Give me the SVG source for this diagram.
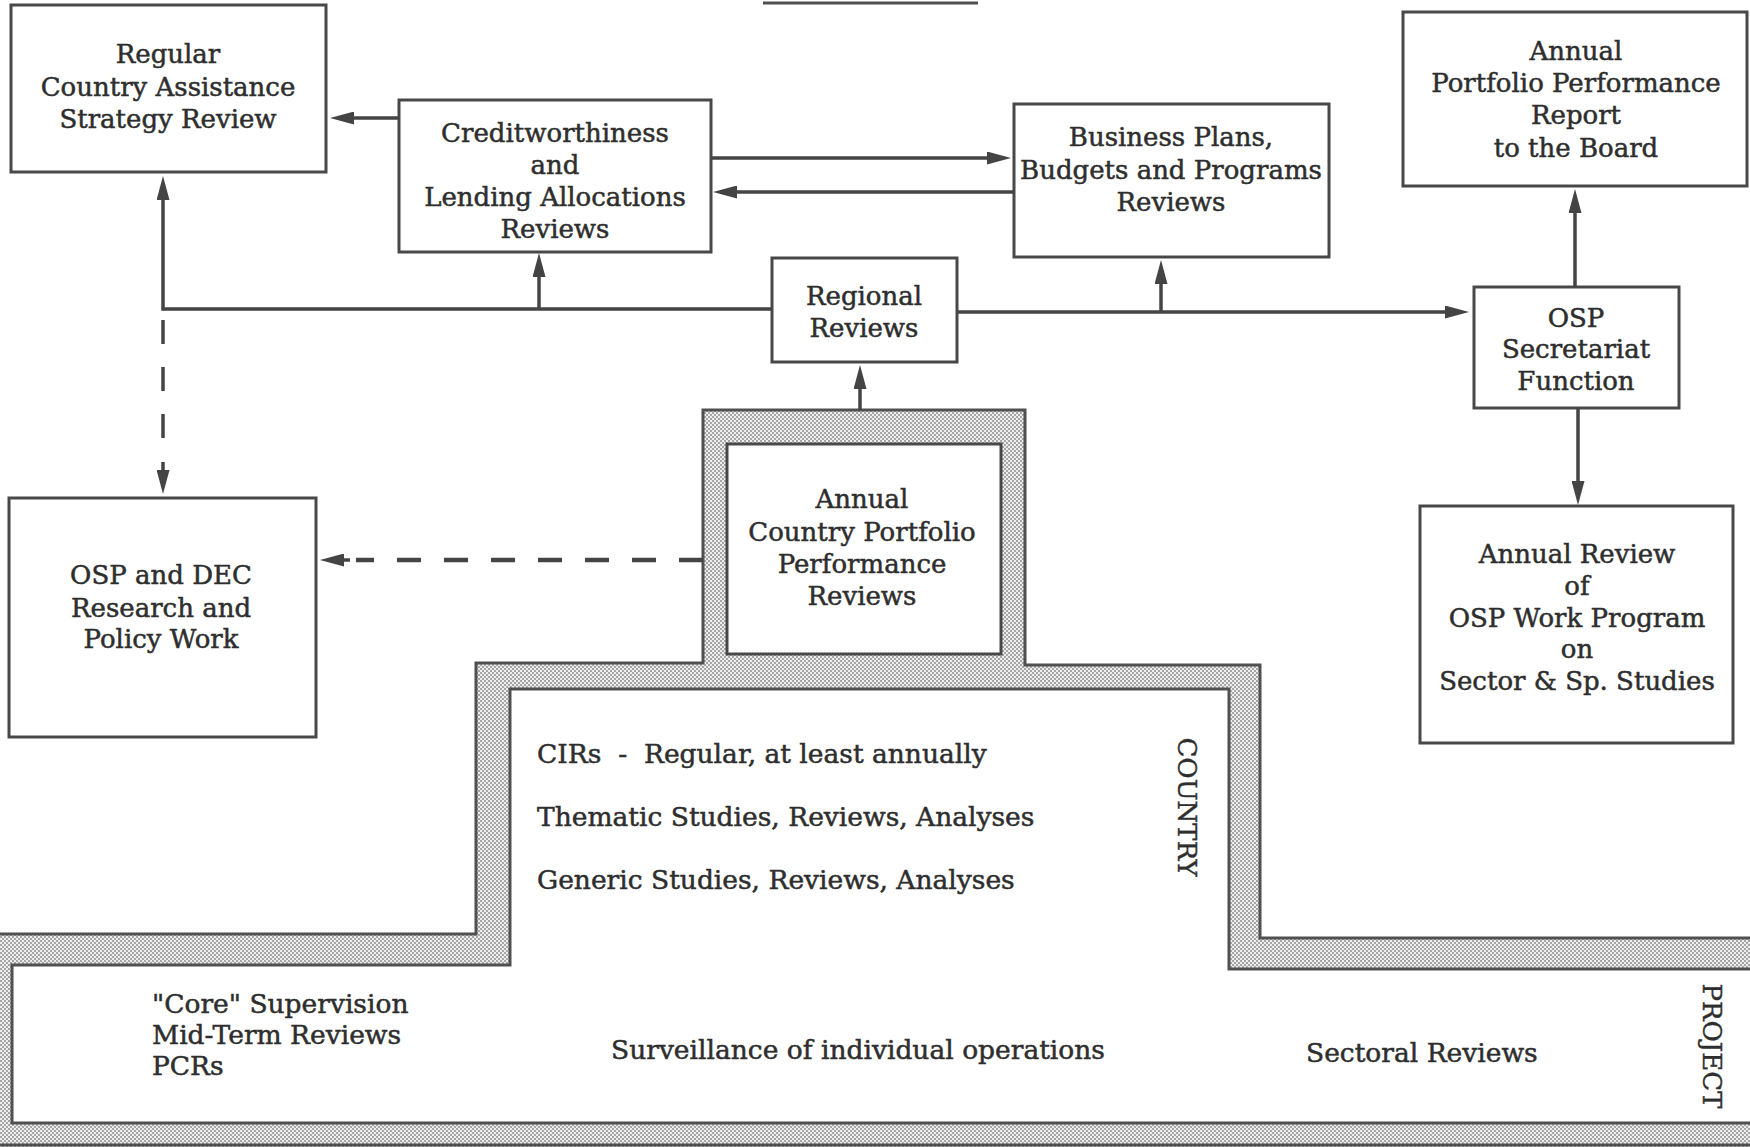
<svg xmlns="http://www.w3.org/2000/svg" width="1750" height="1147" viewBox="0 0 1750 1147">
  <style>
    .box { fill: #ffffff; stroke: #484848; stroke-width: 3; }
    .lbl { font-family: "DejaVu Serif", "Liberation Serif", serif; font-size: 26px; fill: #2e2e2e; stroke: #2e2e2e; stroke-width: 0.5; text-anchor: middle; }
    .left { text-anchor: start; white-space: pre; }
    .wide { font-size: 26.5px; }
    .side { font-family: "DejaVu Serif", "Liberation Serif", serif; font-size: 26px; fill: #2e2e2e; stroke: #2e2e2e; stroke-width: 0.4; text-anchor: middle; }
    .wire { fill: none; stroke: #444444; stroke-width: 3.5; }
    .dash { fill: none; stroke: #444444; stroke-width: 4.5; stroke-dasharray: 24 23; }
    .dash.thin { stroke-width: 3.5; }
    .edge { fill: none; stroke: #505050; stroke-width: 3; }
  </style>
  <defs>
    <pattern id="halftone" width="4" height="4" patternUnits="userSpaceOnUse">
      <rect width="4" height="4" fill="#ededed"/>
      <rect x="0" y="0" width="2" height="2" fill="#a6a6a6"/>
      <rect x="2" y="2" width="2" height="2" fill="#a6a6a6"/>
    </pattern>
    <marker id="head" viewBox="0 0 24 13" refX="14" refY="6.5" markerWidth="24" markerHeight="13" markerUnits="userSpaceOnUse" orient="auto">
      <path d="M0,0 L24,6.5 L0,13 Z" fill="#444444"/>
    </marker>
  </defs>

  <rect width="1750" height="1147" fill="#ffffff"/>

  <!-- heading rule at the top edge -->
  <line x1="763" y1="3" x2="978" y2="3" stroke="#505050" stroke-width="3"/>

  <!-- stepped shaded frame: country level above, project level below -->
  <g id="frame">
    <path d="M-6,934 L476,934 L476,663 L703,663 L703,410 L1025,410 L1025,665 L1260,665 L1260,938 L1756,938 L1756,1153 L-6,1153 Z" fill="url(#halftone)"/>
    <path class="edge" d="M-6,934 L476,934 L476,663 L703,663 L703,410 L1025,410 L1025,665 L1260,665 L1260,938 L1756,938"/>
    <line class="edge" x1="-6" y1="1145" x2="1756" y2="1145"/>
    <path d="M12,965 L510,965 L510,689 L1229,689 L1229,969 L1756,969 L1756,1123 L12,1123 Z" fill="#ffffff" stroke="#505050" stroke-width="3"/>
  </g>

  <g id="country-level">
    <text class="lbl left wide" x="537" y="763">CIRs  -  Regular, at least annually</text>
    <text class="lbl left wide" x="537" y="826">Thematic Studies, Reviews, Analyses</text>
    <text class="lbl left wide" x="537" y="889">Generic Studies, Reviews, Analyses</text>
    <text class="side" transform="translate(1187,807) rotate(90)" x="0" y="9">COUNTRY</text>
  </g>

  <g id="project-level">
    <text class="lbl left wide" x="152" y="1013">"Core" Supervision</text>
    <text class="lbl left wide" x="152" y="1044">Mid-Term Reviews</text>
    <text class="lbl left wide" x="152" y="1075">PCRs</text>
    <text class="lbl left wide" x="611" y="1059">Surveillance of individual operations</text>
    <text class="lbl left wide" x="1306" y="1062">Sectoral Reviews</text>
    <text class="side" transform="translate(1712,1046) rotate(90)" x="0" y="9">PROJECT</text>
  </g>

  <g id="node-cas-review">
    <rect class="box" x="11" y="5" width="315" height="167"/>
    <text class="lbl" x="168" y="63">Regular</text>
    <text class="lbl" x="168" y="96">Country Assistance</text>
    <text class="lbl" x="168" y="128">Strategy Review</text>
  </g>

  <g id="node-creditworthiness">
    <rect class="box" x="399" y="100" width="312" height="152"/>
    <text class="lbl" x="555" y="142">Creditworthiness</text>
    <text class="lbl" x="555" y="174">and</text>
    <text class="lbl" x="555" y="206">Lending Allocations</text>
    <text class="lbl" x="555" y="238">Reviews</text>
  </g>

  <g id="node-business-plans">
    <rect class="box" x="1014" y="104" width="315" height="153"/>
    <text class="lbl" x="1171" y="146">Business Plans,</text>
    <text class="lbl" x="1171" y="179">Budgets and Programs</text>
    <text class="lbl" x="1171" y="211">Reviews</text>
  </g>

  <g id="node-board-report">
    <rect class="box" x="1403" y="12" width="344" height="174"/>
    <text class="lbl" x="1576" y="60">Annual</text>
    <text class="lbl" x="1576" y="92">Portfolio Performance</text>
    <text class="lbl" x="1576" y="124">Report</text>
    <text class="lbl" x="1576" y="157">to the Board</text>
  </g>

  <g id="node-regional">
    <rect class="box" x="772" y="258" width="185" height="104"/>
    <text class="lbl" x="864" y="305">Regional</text>
    <text class="lbl" x="864" y="337">Reviews</text>
  </g>

  <g id="node-osp-secretariat">
    <rect class="box" x="1474" y="287" width="205" height="121"/>
    <text class="lbl" x="1576" y="327">OSP</text>
    <text class="lbl" x="1576" y="358">Secretariat</text>
    <text class="lbl" x="1576" y="390">Function</text>
  </g>

  <g id="node-research">
    <rect class="box" x="9" y="498" width="307" height="239"/>
    <text class="lbl" x="161" y="584">OSP and DEC</text>
    <text class="lbl" x="161" y="617">Research and</text>
    <text class="lbl" x="161" y="648">Policy Work</text>
  </g>

  <g id="node-country-portfolio">
    <rect class="box" x="727" y="444" width="274" height="210"/>
    <text class="lbl" x="862" y="508">Annual</text>
    <text class="lbl" x="862" y="541">Country Portfolio</text>
    <text class="lbl" x="862" y="573">Performance</text>
    <text class="lbl" x="862" y="605">Reviews</text>
  </g>

  <g id="node-work-program">
    <rect class="box" x="1420" y="506" width="313" height="237"/>
    <text class="lbl" x="1577" y="563">Annual Review</text>
    <text class="lbl" x="1577" y="595">of</text>
    <text class="lbl" x="1577" y="627">OSP Work Program</text>
    <text class="lbl" x="1577" y="658">on</text>
    <text class="lbl" x="1577" y="690">Sector &amp; Sp. Studies</text>
  </g>

  <g id="connectors">
    <!-- creditworthiness to CAS review -->
    <path class="wire" d="M399,118 L340,118" marker-end="url(#head)"/>
    <!-- creditworthiness and business plans, both ways -->
    <path class="wire" d="M711,158 L1001,158" marker-end="url(#head)"/>
    <path class="wire" d="M1014,192 L723,192" marker-end="url(#head)"/>
    <!-- regional trunk, left branch -->
    <path class="wire" d="M772,309 L163,309 L163,186" marker-end="url(#head)"/>
    <path class="wire" d="M539,309 L539,263" marker-end="url(#head)"/>
    <!-- regional trunk, right branch -->
    <path class="wire" d="M957,312 L1459,312" marker-end="url(#head)"/>
    <path class="wire" d="M1161,312 L1161,270" marker-end="url(#head)"/>
    <!-- country portfolio reviews up to regional reviews -->
    <path class="wire" d="M860,410 L860,375" marker-end="url(#head)"/>
    <!-- OSP secretariat up and down -->
    <path class="wire" d="M1575,287 L1575,199" marker-end="url(#head)"/>
    <path class="wire" d="M1578,408 L1578,495" marker-end="url(#head)"/>
    <!-- dashed links to research and policy work -->
    <path class="dash thin" d="M163,320 L163,448"/>
    <path class="wire" d="M163,462 L163,484" marker-end="url(#head)"/>
    <path class="dash" d="M703,560 L356,560"/>
    <path class="wire" d="M350,560 L330,560" marker-end="url(#head)"/>
  </g>
</svg>
